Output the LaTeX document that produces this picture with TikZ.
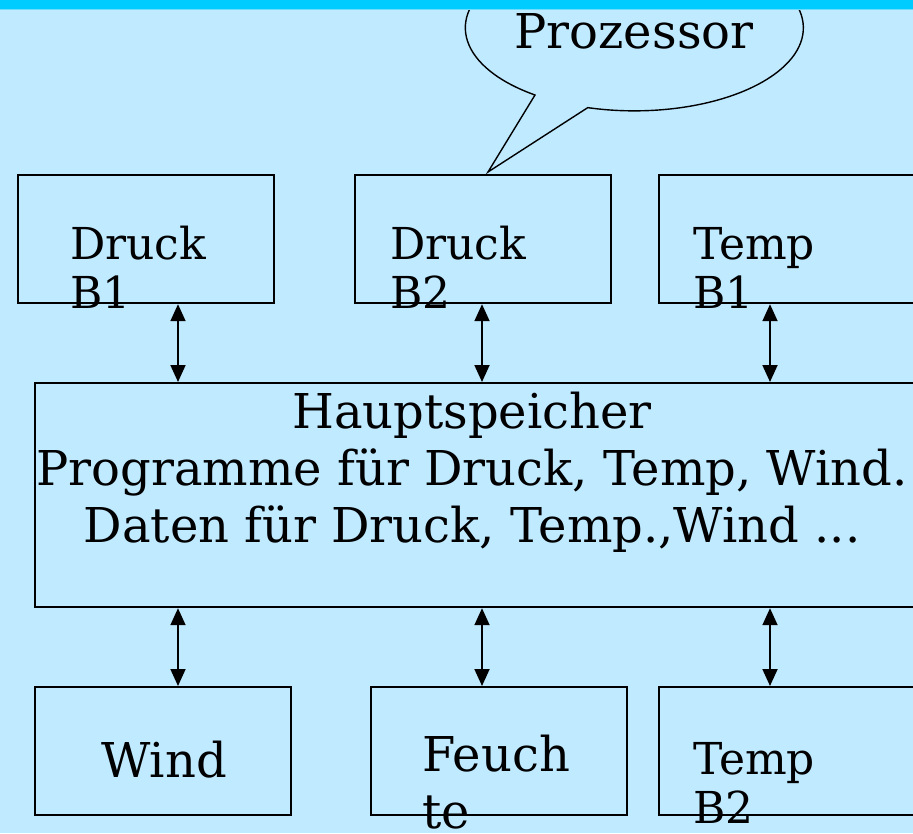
\documentclass[tikz,border=0pt]{standalone}
\usepackage{fontspec}
\setmainfont{DejaVu Serif}
\usetikzlibrary{arrows.meta,positioning,calc}
\definecolor{bgblue}{RGB}{192,234,255}
\definecolor{barcyan}{RGB}{0,204,255}
\definecolor{barline}{RGB}{110,220,255}

\begin{document}
\begin{tikzpicture}[x=1pt, y=-1pt,
    box/.style={draw, line width=2.2pt, minimum width=256pt, minimum height=128pt, anchor=north west, inner sep=0pt},
    lbl/.style={anchor=base west, inner sep=0pt, align=left, font=\fontsize{44}{49}\selectfont},
    big/.style={anchor=base, inner sep=0pt, align=center, font=\fontsize{48}{57}\selectfont},
    conn/.style={{Triangle[width=15pt,length=17pt]}-{Triangle[width=15pt,length=17pt]}, line width=1.8pt}]
    % page
    \clip (0,0) rectangle (913,833);
    \fill[bgblue] (0,0) rectangle (913,833);
    % speech bubble
    \draw[line width=1.4pt, fill=bgblue] (488,172) -- (535,95) arc[start angle=126, end angle=466, x radius=169, y radius=83] -- cycle;
    \node[big] (cpu) at (634,48) {Prozessor};
    % title bar
    \fill[barcyan] (0,0) rectangle (913,9);
    \draw[barline, line width=1pt] (0,9.5) -- (913,9.5);
    % upper row
    \node[box] (db1) at (17,174) {};
    \node[box] (db2) at (354,174) {};
    \node[box] (tb1) at (658,174) {};
    \node[lbl] (t-db1) at (70,308) {Druck\\B1};
    \node[lbl] (t-db2) at (390,308) {Druck\\B2};
    \node[lbl] (t-tb1) at (693,308) {Temp\\B1};
    % main memory
    \node[box, minimum width=900pt, minimum height=224pt] (hs) at (34,382) {};
    \node[big] (t-hs) at (472,542) {Hauptspeicher\\Programme für Druck, Temp, Wind.\\Daten für Druck, Temp.,Wind ...};
    % lower row
    \node[box] (wind) at (34,686) {};
    \node[box] (feu) at (370,686) {};
    \node[box] (tb2) at (658,686) {};
    \node[big] (t-wind) at (164,777) {Wind};
    \node[big, anchor=base west, align=left] (t-feu) at (422,828) {Feuch\\te};
    \node[lbl] (t-tb2) at (693,823) {Temp\\B2};
    % connections
    \coordinate (xa) at (178,0);
    \coordinate (xb) at (482,0);
    \coordinate (xc) at (770,0);
    \draw[conn] (db1.south -| xa) -- (hs.north -| xa);
    \draw[conn] (db2.south -| xb) -- (hs.north -| xb);
    \draw[conn] (tb1.south -| xc) -- (hs.north -| xc);
    \draw[conn] (hs.south -| xa) -- (wind.north -| xa);
    \draw[conn] (hs.south -| xb) -- (feu.north -| xb);
    \draw[conn] (hs.south -| xc) -- (tb2.north -| xc);
\end{tikzpicture}
\end{document}
